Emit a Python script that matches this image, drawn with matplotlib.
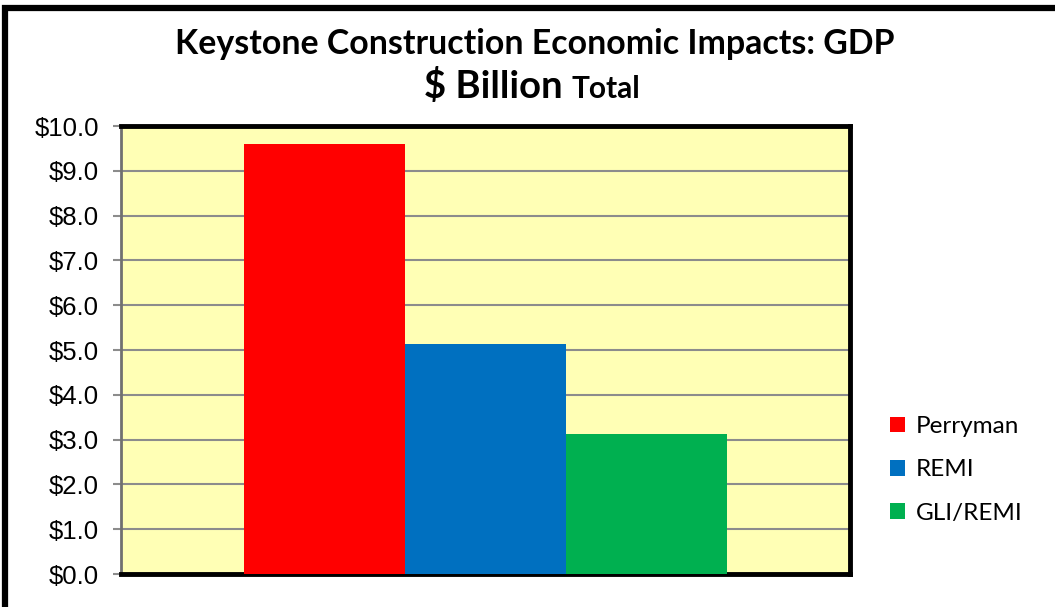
import matplotlib
matplotlib.use("Agg")
import matplotlib.pyplot as plt
from matplotlib.patches import Rectangle, Patch

# data
series = ["Perryman", "REMI", "GLI/REMI"]
values = [9.6, 5.14, 3.13]
colors = ["#FF0000", "#0070C0", "#00B050"]
yticks = [0, 1, 2, 3, 4, 5, 6, 7, 8, 9, 10]
title1 = "Keystone Construction Economic Impacts: GDP"

fig = plt.figure(figsize=(10.55, 6.07), dpi=100)
ax = fig.add_axes([121 / 1055, 1 - 574 / 607, (850 - 121) / 1055, (574 - 126) / 607])
ax.set_facecolor("#FFFFB5")

for i in range(len(series)):
    ax.bar(i, values[i], width=1.0, color=colors[i], label=series[i], zorder=3)

ax.set_xlim(-1.26, 3.26)
ax.set_ylim(0, 10)
ax.set_yticks(yticks)
ax.set_yticklabels(["${:.1f}".format(v) for v in yticks],
                   fontfamily="Liberation Sans", fontsize=18.5)
ax.set_xticks([])
ax.grid(axis="y", color="#8C8C8C", linewidth=1.5, zorder=1)
ax.tick_params(axis="y", length=6, width=1.5, color="#8C8C8C", pad=10)

for s in ["top", "right", "bottom"]:
    ax.spines[s].set_color("black")
    ax.spines[s].set_linewidth(3.5)
ax.spines["left"].set_color("#707070")
ax.spines["left"].set_linewidth(2)

# titles
fig.text(535 / 1055, 1 - 54 / 607, title1, ha="center", va="baseline",
         fontfamily="Lato", fontweight="bold", fontsize=24.4)
fig.text(563 / 1055, 1 - 98 / 607, "$ Billion", ha="right", va="baseline",
         fontfamily="Lato", fontweight="bold", fontsize=27.5)
fig.text(571 / 1055, 1 - 98 / 607, "Total", ha="left", va="baseline",
         fontfamily="Lato", fontweight="bold", fontsize=21.5)

handles = [Patch(facecolor=c, edgecolor="none") for c in colors]
fig.legend(handles, series, loc="center left", bbox_to_anchor=(868 / 1055, 1 - 470 / 607),
           frameon=False, prop={"family": "Lato", "size": 17.5},
           handlelength=0.62, handleheight=0.62, handletextpad=0.45, labelspacing=0.92)

# outer chart border
fig.patches.append(Rectangle((5 / 1055, -0.1), 1.2, 1.1 - 8 / 607, transform=fig.transFigure,
                             fill=False, edgecolor="black", linewidth=4.5))

fig.savefig("out.png", dpi=100)
